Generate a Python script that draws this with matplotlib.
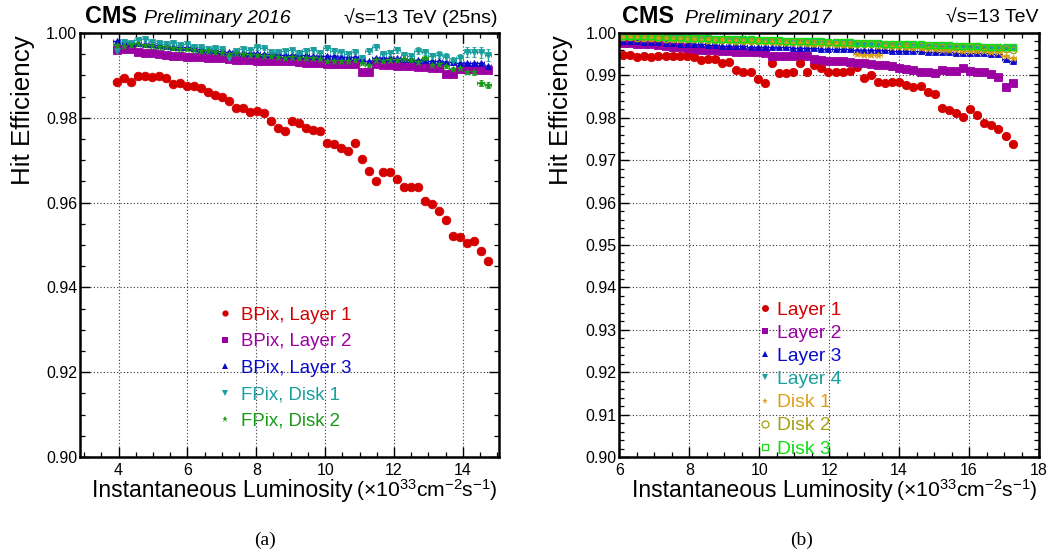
import matplotlib
matplotlib.use('Agg')
import matplotlib.pyplot as plt
from matplotlib.ticker import MultipleLocator, FormatStrFormatter
from matplotlib.lines import Line2D

plt.rcParams['font.family'] = ['Liberation Sans', 'DejaVu Sans']
plt.rcParams['mathtext.fontset'] = 'custom'
plt.rcParams['mathtext.rm'] = 'Liberation Sans'
plt.rcParams['mathtext.default'] = 'regular'

# ---------------- 2016 data ----------------
lumi16 = [3.95, 4.15, 4.36, 4.56, 4.76, 4.97, 5.17, 5.37, 5.58, 5.78,
          5.98, 6.19, 6.39, 6.59, 6.80, 7.00, 7.20, 7.41, 7.61, 7.81,
          8.02, 8.22, 8.42, 8.63, 8.83, 9.03, 9.24, 9.44, 9.64, 9.85,
          10.05, 10.25, 10.46, 10.66, 10.86, 11.07, 11.27, 11.47, 11.68, 11.88,
          12.08, 12.29, 12.49, 12.69, 12.90, 13.10, 13.30, 13.51, 13.71, 13.91,
          14.12, 14.32, 14.52, 14.73]

bpix_l1_16 = [0.9884, 0.9895, 0.9885, 0.9898, 0.9898, 0.9897, 0.9898, 0.9895, 0.9880, 0.9881,
              0.9876, 0.9874, 0.9870, 0.9861, 0.9854, 0.9848, 0.9839, 0.9824, 0.9822, 0.9814,
              0.9816, 0.9811, 0.9792, 0.9777, 0.9770, 0.9793, 0.9787, 0.9777, 0.9771, 0.9768,
              0.9740, 0.9739, 0.9729, 0.9721, 0.9740, 0.9704, 0.9675, 0.9651, 0.9671, 0.9671,
              0.9656, 0.9636, 0.9636, 0.9636, 0.9603, 0.9597, 0.9581, 0.9560, 0.9521, 0.9518,
              0.9505, 0.9509, 0.9485, 0.9462]
bpix_l1_16_err = [0.0002, 0.0002, 0.0002, 0.0002, 0.0002, 0.0002, 0.0002, 0.0002, 0.0002, 0.0002,
                  0.0002, 0.0002, 0.0002, 0.0002, 0.0002, 0.0002, 0.0002, 0.0002, 0.0002, 0.0002,
                  0.0002, 0.0002, 0.0002, 0.0002, 0.0002, 0.0002, 0.0003, 0.0003, 0.0003, 0.0003,
                  0.0003, 0.0003, 0.0003, 0.0003, 0.0003, 0.0003, 0.0003, 0.0004, 0.0004, 0.0004,
                  0.0004, 0.0004, 0.0004, 0.0004, 0.0004, 0.0004, 0.0005, 0.0005, 0.0005, 0.0005,
                  0.0005, 0.0008, 0.0007, 0.0008]

bpix_l2_16 = [0.9960, 0.9962, 0.9962, 0.9955, 0.9953, 0.9952, 0.9951, 0.9947, 0.9946, 0.9945,
              0.9944, 0.9944, 0.9943, 0.9941, 0.9940, 0.9940, 0.9939, 0.9937, 0.9936, 0.9936,
              0.9935, 0.9935, 0.9934, 0.9934, 0.9933, 0.9933, 0.9931, 0.9930, 0.9929, 0.9929,
              0.9928, 0.9928, 0.9927, 0.9927, 0.9926, 0.9907, 0.9907, 0.9926, 0.9925, 0.9924,
              0.9923, 0.9922, 0.9921, 0.9920, 0.9919, 0.9918, 0.9917, 0.9904, 0.9904, 0.9915,
              0.9914, 0.9914, 0.9913, 0.9912]

bpix_l3_16 = [0.9980, 0.9978, 0.9977, 0.9976, 0.9975, 0.9973, 0.9972, 0.9970, 0.9968, 0.9967,
              0.9966, 0.9965, 0.9963, 0.9961, 0.9959, 0.9957, 0.9956, 0.9955, 0.9954, 0.9953,
              0.9952, 0.9951, 0.9950, 0.9950, 0.9949, 0.9948, 0.9948, 0.9947, 0.9946, 0.9946,
              0.9945, 0.9945, 0.9944, 0.9943, 0.9943, 0.9938, 0.9934, 0.9942, 0.9942, 0.9941,
              0.9940, 0.9939, 0.9938, 0.9937, 0.9936, 0.9935, 0.9934, 0.9932, 0.9931, 0.9930,
              0.9930, 0.9930, 0.9929, 0.9922]

fpix_d1_16 = [0.9958, 0.9978, 0.9976, 0.9983, 0.9985, 0.9978, 0.9977, 0.9975, 0.9976, 0.9972,
              0.9973, 0.9968, 0.9966, 0.9963, 0.9965, 0.9962, 0.9942, 0.9958, 0.9962, 0.9959,
              0.9966, 0.9964, 0.9955, 0.9955, 0.9958, 0.9960, 0.9953, 0.9958, 0.9960, 0.9952,
              0.9965, 0.9958, 0.9955, 0.9950, 0.9956, 0.9942, 0.9958, 0.9968, 0.9950, 0.9952,
              0.9960, 0.9949, 0.9945, 0.9958, 0.9955, 0.9945, 0.9949, 0.9944, 0.9935, 0.9940,
              0.9956, 0.9955, 0.9955, 0.9948]
fpix_d1_16_err = [0.0006, 0.0005, 0.0005, 0.0005, 0.0005, 0.0005, 0.0005, 0.0005, 0.0005, 0.0005,
                  0.0005, 0.0005, 0.0005, 0.0005, 0.0005, 0.0005, 0.0005, 0.0005, 0.0005, 0.0005,
                  0.0005, 0.0005, 0.0005, 0.0005, 0.0005, 0.0005, 0.0006, 0.0006, 0.0006, 0.0006,
                  0.0006, 0.0006, 0.0006, 0.0006, 0.0006, 0.0006, 0.0007, 0.0007, 0.0007, 0.0007,
                  0.0007, 0.0007, 0.0007, 0.0008, 0.0008, 0.0008, 0.0008, 0.0009, 0.0009, 0.0010,
                  0.0012, 0.0012, 0.0013, 0.0014]

fpix_d2_16 = [0.9972, 0.9970, 0.9972, 0.9973, 0.9972, 0.9970, 0.9968, 0.9966, 0.9964, 0.9962,
              0.9962, 0.9960, 0.9958, 0.9957, 0.9955, 0.9953, 0.9950, 0.9952, 0.9950, 0.9948,
              0.9947, 0.9946, 0.9945, 0.9944, 0.9940, 0.9943, 0.9942, 0.9940, 0.9941, 0.9939,
              0.9935, 0.9933, 0.9935, 0.9934, 0.9936, 0.9930, 0.9924, 0.9936, 0.9935, 0.9937,
              0.9936, 0.9938, 0.9936, 0.9932, 0.9940, 0.9925, 0.9928, 0.9922, 0.9915, 0.9918,
              0.9909, 0.9908, 0.9883, 0.9877]
fpix_d2_16_err = [0.0003, 0.0003, 0.0003, 0.0003, 0.0003, 0.0003, 0.0003, 0.0003, 0.0003, 0.0003,
                  0.0003, 0.0003, 0.0003, 0.0003, 0.0003, 0.0003, 0.0003, 0.0003, 0.0003, 0.0003,
                  0.0003, 0.0003, 0.0003, 0.0003, 0.0003, 0.0003, 0.0003, 0.0003, 0.0003, 0.0003,
                  0.0004, 0.0004, 0.0004, 0.0004, 0.0004, 0.0004, 0.0004, 0.0004, 0.0004, 0.0004,
                  0.0004, 0.0004, 0.0004, 0.0005, 0.0005, 0.0005, 0.0005, 0.0005, 0.0005, 0.0006,
                  0.0006, 0.0006, 0.0007, 0.0007]
small_err_16 = 0.0002

labels16 = ['BPix, Layer 1', 'BPix, Layer 2', 'BPix, Layer 3', 'FPix, Disk 1', 'FPix, Disk 2']

# ---------------- 2017 data ----------------
lumi17 = [6.11, 6.31, 6.52, 6.72, 6.92, 7.12, 7.33, 7.53, 7.73, 7.93,
          8.14, 8.34, 8.54, 8.74, 8.95, 9.15, 9.35, 9.55, 9.76, 9.96,
          10.16, 10.36, 10.57, 10.77, 10.97, 11.17, 11.38, 11.58, 11.78, 11.98,
          12.19, 12.39, 12.59, 12.79, 13.00, 13.20, 13.40, 13.60, 13.81, 14.01,
          14.21, 14.41, 14.62, 14.82, 15.02, 15.22, 15.43, 15.63, 15.83, 16.03,
          16.24, 16.44, 16.64, 16.84, 17.05, 17.25]

layer1_17 = [0.9947, 0.9949, 0.9944, 0.9946, 0.9944, 0.9945, 0.9946, 0.9946, 0.9945, 0.9945,
             0.9944, 0.9937, 0.9939, 0.9938, 0.9929, 0.9932, 0.9912, 0.9908, 0.9909, 0.9892,
             0.9881, 0.9930, 0.9906, 0.9906, 0.9907, 0.9930, 0.9908, 0.9925, 0.9917, 0.9908,
             0.9909, 0.9909, 0.9911, 0.9920, 0.9895, 0.9902, 0.9884, 0.9883, 0.9884, 0.9884,
             0.9877, 0.9873, 0.9875, 0.9861, 0.9855, 0.9822, 0.9818, 0.9812, 0.9802, 0.9820,
             0.9806, 0.9787, 0.9782, 0.9774, 0.9758, 0.9739]

layer2_17 = [0.9977, 0.9976, 0.9975, 0.9974, 0.9973, 0.9971, 0.9970, 0.9968, 0.9966, 0.9965,
             0.9963, 0.9961, 0.9960, 0.9959, 0.9958, 0.9957, 0.9956, 0.9956, 0.9955, 0.9955,
             0.9954, 0.9946, 0.9946, 0.9946, 0.9945, 0.9948, 0.9945, 0.9938, 0.9936, 0.9935,
             0.9934, 0.9933, 0.9932, 0.9930, 0.9929, 0.9927, 0.9925, 0.9924, 0.9922, 0.9917,
             0.9915, 0.9912, 0.9909, 0.9907, 0.9906, 0.9913, 0.9911, 0.9910, 0.9918, 0.9910,
             0.9909, 0.9907, 0.9903, 0.9897, 0.9873, 0.9882]

layer3_17 = [0.9982, 0.9981, 0.9981, 0.9979, 0.9979, 0.9978, 0.9977, 0.9977, 0.9975, 0.9975,
             0.9974, 0.9973, 0.9972, 0.9972, 0.9970, 0.9970, 0.9969, 0.9969, 0.9968, 0.9967,
             0.9967, 0.9966, 0.9966, 0.9966, 0.9965, 0.9965, 0.9965, 0.9964, 0.9963, 0.9963,
             0.9962, 0.9962, 0.9962, 0.9961, 0.9960, 0.9960, 0.9960, 0.9959, 0.9958, 0.9958,
             0.9958, 0.9957, 0.9957, 0.9956, 0.9955, 0.9955, 0.9955, 0.9954, 0.9954, 0.9953,
             0.9953, 0.9952, 0.9951, 0.9950, 0.9938, 0.9935]

layer4_17 = [0.9993, 0.9992, 0.9992, 0.9991, 0.9991, 0.9990, 0.9990, 0.9989, 0.9988, 0.9988,
             0.9987, 0.9987, 0.9986, 0.9986, 0.9985, 0.9985, 0.9984, 0.9984, 0.9983, 0.9983,
             0.9982, 0.9982, 0.9981, 0.9981, 0.9980, 0.9980, 0.9979, 0.9979, 0.9978, 0.9978,
             0.9977, 0.9977, 0.9976, 0.9976, 0.9976, 0.9975, 0.9975, 0.9974, 0.9974, 0.9973,
             0.9973, 0.9972, 0.9972, 0.9971, 0.9971, 0.9970, 0.9970, 0.9969, 0.9969, 0.9968,
             0.9968, 0.9967, 0.9967, 0.9966, 0.9965, 0.9964]

disk1_17 = [0.9991, 0.9990, 0.9990, 0.9989, 0.9989, 0.9988, 0.9988, 0.9987, 0.9986, 0.9986,
            0.9985, 0.9984, 0.9984, 0.9983, 0.9983, 0.9982, 0.9981, 0.9981, 0.9980, 0.9980,
            0.9979, 0.9978, 0.9978, 0.9977, 0.9977, 0.9976, 0.9976, 0.9975, 0.9974, 0.9974,
            0.9973, 0.9973, 0.9972, 0.9950, 0.9948, 0.9947, 0.9948, 0.9969, 0.9968, 0.9967,
            0.9966, 0.9965, 0.9964, 0.9963, 0.9962, 0.9961, 0.9960, 0.9959, 0.9958, 0.9958,
            0.9957, 0.9957, 0.9956, 0.9955, 0.9946, 0.9942]

disk2_17 = [0.9990, 0.9990, 0.9989, 0.9989, 0.9988, 0.9988, 0.9987, 0.9987, 0.9986, 0.9986,
            0.9985, 0.9985, 0.9984, 0.9984, 0.9983, 0.9983, 0.9982, 0.9982, 0.9981, 0.9981,
            0.9980, 0.9980, 0.9979, 0.9979, 0.9978, 0.9978, 0.9977, 0.9977, 0.9976, 0.9976,
            0.9975, 0.9975, 0.9974, 0.9974, 0.9973, 0.9973, 0.9972, 0.9972, 0.9971, 0.9971,
            0.9970, 0.9970, 0.9969, 0.9969, 0.9968, 0.9968, 0.9967, 0.9967, 0.9966, 0.9966,
            0.9965, 0.9965, 0.9964, 0.9964, 0.9962, 0.9961]

disk3_17 = [0.9994, 0.9993, 0.9993, 0.9992, 0.9992, 0.9991, 0.9991, 0.9990, 0.9990, 0.9989,
            0.9989, 0.9988, 0.9988, 0.9987, 0.9987, 0.9986, 0.9986, 0.9985, 0.9985, 0.9984,
            0.9984, 0.9983, 0.9983, 0.9982, 0.9982, 0.9981, 0.9981, 0.9980, 0.9980, 0.9979,
            0.9979, 0.9978, 0.9978, 0.9977, 0.9977, 0.9976, 0.9976, 0.9975, 0.9975, 0.9974,
            0.9974, 0.9973, 0.9973, 0.9972, 0.9972, 0.9971, 0.9971, 0.9970, 0.9970, 0.9969,
            0.9969, 0.9968, 0.9968, 0.9967, 0.9967, 0.9966]
err_17 = 0.0002

labels17 = ['Layer 1', 'Layer 2', 'Layer 3', 'Layer 4', 'Disk 1', 'Disk 2', 'Disk 3']

# ---------------- styling ----------------
RED = '#d40000'
PURPLE = '#9b00a3'
BLUE = '#0a0acc'
TEAL = '#1a9e9e'
GREEN16 = '#189a18'
ORANGE = '#dba01a'
OLIVE = '#a8a010'
LGREEN = '#12dd12'

W, H = 1059, 558
fig = plt.figure(figsize=(W / 100, H / 100), dpi=100)
axL = fig.add_axes([80 / W, 1 - 457 / H, 419 / W, 424 / H])
axR = fig.add_axes([619.3 / W, 1 - 457 / H, 419.7 / W, 424 / H])


def style(ax, xlim, ymin_step, fmt):
    ax.set_xlim(*xlim)
    ax.set_ylim(0.90, 1.00)
    ax.xaxis.set_major_locator(MultipleLocator(2))
    ax.xaxis.set_minor_locator(MultipleLocator(0.5))
    ax.yaxis.set_minor_locator(MultipleLocator(ymin_step))
    ax.yaxis.set_major_formatter(FormatStrFormatter(fmt))
    ax.tick_params(which='both', direction='in', top=True, right=True, labelsize=11.5)
    ax.tick_params(axis='y', which='major', pad=2)
    ax.tick_params(axis='x', which='major', pad=4)
    ax.tick_params(which='major', length=7, width=1.0)
    ax.tick_params(which='minor', length=3.5, width=0.9)
    ax.grid(True, which='major', linestyle=(0, (1, 2)), color='#333333', linewidth=0.8)
    ax.set_axisbelow(True)
    for s in ax.spines.values():
        s.set_linewidth(1.8)


style(axL, (2.88, 15.05), 0.005, '%.2f')
axL.yaxis.set_major_locator(MultipleLocator(0.02))
style(axR, (6, 18), 0.002, '%.2f')
axR.yaxis.set_major_locator(MultipleLocator(0.01))


def series(ax, x, y, yerr, color, marker, ms, open_=False):
    kw = dict(fmt=marker, color=color, ms=ms, elinewidth=1.0, capsize=1.5, capthick=1.0,
              xerr=0.1)
    if open_:
        kw.update(mfc='none', mec=color, mew=1.0)
    else:
        kw.update(mec=color, mew=0.6)
    ax.errorbar(x, y, yerr=yerr, **kw)


series(axL, lumi16, bpix_l1_16, bpix_l1_16_err, RED, 'o', 6.2)
series(axL, lumi16, bpix_l2_16, small_err_16, PURPLE, 's', 5.2)
series(axL, lumi16, bpix_l3_16, small_err_16, BLUE, '^', 5.0)
series(axL, lumi16, fpix_d1_16, fpix_d1_16_err, TEAL, 'v', 5.0)
series(axL, lumi16, fpix_d2_16, fpix_d2_16_err, GREEN16, '*', 5.0)

series(axR, lumi17, layer1_17, err_17, RED, 'o', 6.0)
series(axR, lumi17, layer2_17, err_17, PURPLE, 's', 5.2)
series(axR, lumi17, layer3_17, err_17, BLUE, '^', 5.0)
series(axR, lumi17, layer4_17, err_17, TEAL, 'v', 5.0)
series(axR, lumi17, disk1_17, err_17, ORANGE, '*', 5.0)
series(axR, lumi17, disk2_17, err_17, OLIVE, 'o', 4.6, open_=True)
series(axR, lumi17, disk3_17, err_17, LGREEN, 's', 5.0, open_=True)

# legends
cols16 = [RED, PURPLE, BLUE, TEAL, GREEN16]
mk16 = ['o', 's', '^', 'v', '*']
h16 = [Line2D([], [], ls='none', marker=m, color=c, ms=4.5, mew=0) for m, c in zip(mk16, cols16)]
axL.legend(h16, labels16, loc='upper left', bbox_to_anchor=(0.334, 0.354), frameon=False,
           fontsize=13.4, handlelength=0.56, handletextpad=0.55, labelspacing=0.505,
           borderpad=0, borderaxespad=0, labelcolor=cols16)

cols17 = [RED, PURPLE, BLUE, TEAL, ORANGE, OLIVE, LGREEN]
mk17 = ['o', 's', '^', 'v', '*', 'o', 's']
h17 = []
for m, c, o in zip(mk17, cols17, [0, 0, 0, 0, 0, 1, 1]):
    if o:
        h17.append(Line2D([], [], ls='none', marker=m, color=c, mfc='none', ms=5, mew=0.9))
    else:
        h17.append(Line2D([], [], ls='none', marker=m, color=c, ms=5, mew=0))
axR.legend(h17, labels17, loc='upper left', bbox_to_anchor=(0.336, 0.367), frameon=False,
           fontsize=13.9, handlelength=0.47, handletextpad=0.4, labelspacing=0.29,
           borderpad=0, borderaxespad=0, labelcolor=cols17)

# headers
yb = 1 - 23 / H
fig.text(85 / W, yb, 'CMS', fontsize=16.8, fontweight='bold', va='baseline')
fig.text(144 / W, yb, 'Preliminary 2016', fontsize=14, style='italic', va='baseline')
fig.text(498 / W, yb, '\u221as=13 TeV (25ns)', fontsize=14, ha='right', va='baseline')
fig.text(622 / W, yb, 'CMS', fontsize=16.8, fontweight='bold', va='baseline')
fig.text(685 / W, yb, 'Preliminary 2017', fontsize=14, style='italic', va='baseline')
fig.text(1039 / W, yb, '\u221as=13 TeV', fontsize=14, ha='right', va='baseline')

# y labels
fig.text(23 / W, 1 - 35 / H, 'Hit Efficiency', fontsize=18.7, rotation=90, ha='center', va='top')
fig.text(561 / W, 1 - 35 / H, 'Hit Efficiency', fontsize=18.7, rotation=90, ha='center', va='top')

# x labels
fig.canvas.draw()
renderer = fig.canvas.get_renderer()
paren = '(\u00d710$^{33}$cm$^{-2}$s$^{-1}$)'
for right_px in (498, 1038):
    yx = 1 - 497 / H
    t1 = fig.text(right_px / W, yx, paren, fontsize=15.2, ha='right', va='baseline')
    bb = t1.get_window_extent(renderer)
    fig.text((bb.x0 - 4) / W, yx, 'Instantaneous Luminosity', fontsize=16.6, ha='right',
             va='baseline')

# captions
fig.text(265 / W, 1 - 540 / H, '(a)', fontsize=14, family='Liberation Serif', ha='center', va='center')
fig.text(802 / W, 1 - 540 / H, '(b)', fontsize=14, family='Liberation Serif', ha='center', va='center')

fig.savefig('out.png', dpi=100)
